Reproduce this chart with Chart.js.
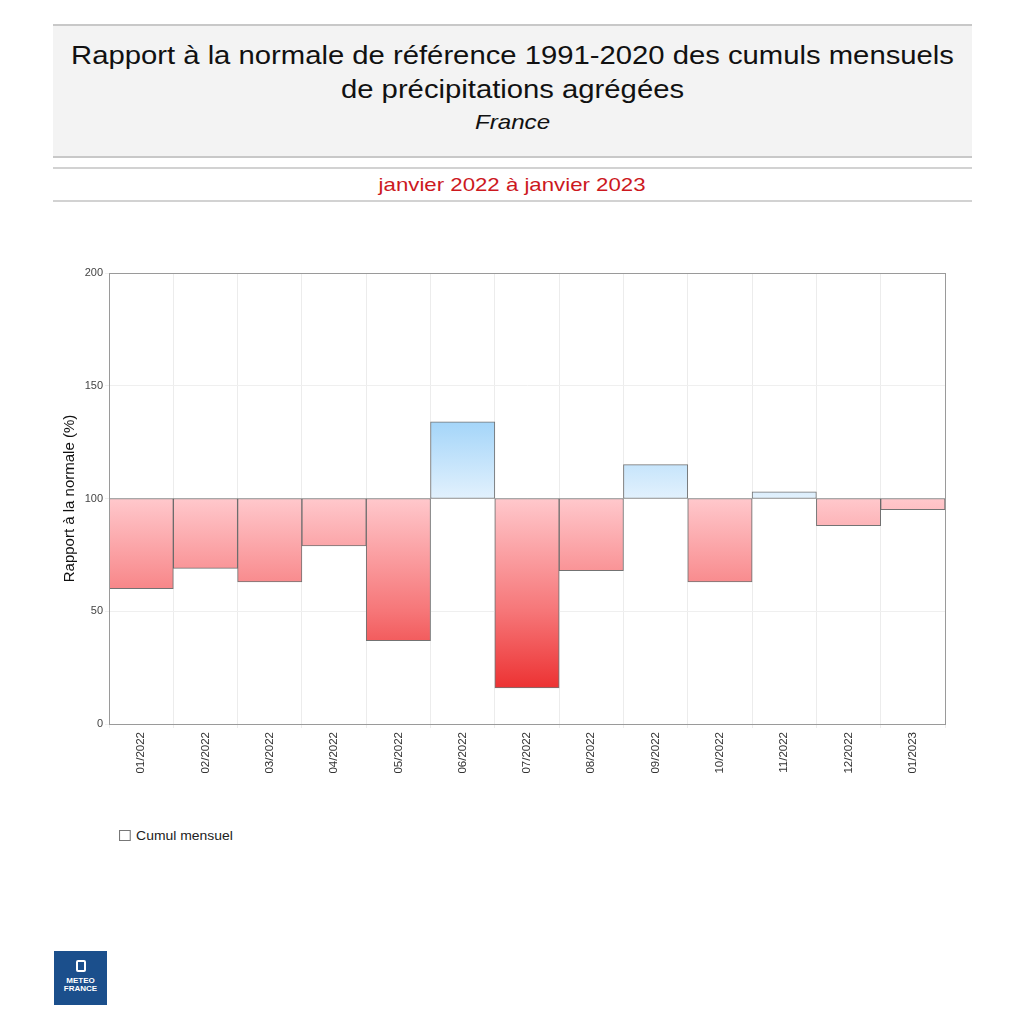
<!DOCTYPE html>
<html>
<head>
<meta charset="utf-8">
<script src="https://cdn.jsdelivr.net/npm/chart.js@4.4.0/dist/chart.umd.min.js"></script>
<style>
  html, body { margin: 0; padding: 0; background: #ffffff; }
  body { width: 1017px; height: 1024px; position: relative; overflow: hidden; font-family: "Liberation Sans", Arial, sans-serif; }
  #head { position: absolute; left: 53px; top: 24px; width: 919px; height: 130px; background: #f3f3f3; border-top: 2px solid #c8c8c8; border-bottom: 2px solid #c8c8c8; text-align: center; color: #111; }
  #head .t { font-size: 25px; line-height: 34px; transform: scaleX(1.17); transform-origin: 50% 50%; }
  #head .t1 { position: absolute; left: 0; right: 0; top: 12px; }
  #head .t2 { position: absolute; left: 0; right: 0; top: 46px; }
  #head .f { position: absolute; left: 0; right: 0; top: 84px; font-size: 21px; font-style: italic; transform: scaleX(1.15); transform-origin: 50% 50%; }
  #sub { position: absolute; left: 53px; top: 167px; width: 919px; height: 31px; border-top: 2px solid #d2d2d2; border-bottom: 2px solid #d2d2d2; text-align: center; color: #cc181e; font-size: 19px; line-height: 31px; }
  #sub span { display: inline-block; transform: scaleX(1.17); }
  #wrap { position: absolute; left: 0; top: 250px; width: 1017px; height: 560px; }
  #legend { position: absolute; left: 119px; top: 828px; font-size: 13px; color: #222; transform: scaleX(1.07); transform-origin: 0 50%; }
  #legend span.box { display: inline-block; width: 9px; height: 9px; border: 1px solid #777; margin-right: 5px; vertical-align: -1px; background: #fff; }
  #logo { position: absolute; left: 54px; top: 951px; width: 53px; height: 54px; background: #1b4f8c; color: #fff; text-align: center; font-weight: bold; font-size: 8px; line-height: 8px; }
  #logo .ic { width: 10px; height: 12px; border: 2px solid #fff; border-radius: 2px; margin: 9px auto 5px auto; box-sizing: border-box; }
</style>
</head>
<body>
<div id="head">
  <div class="t t1">Rapport à la normale de référence 1991-2020 des cumuls mensuels</div>
  <div class="t t2">de précipitations agrégées</div>
  <div class="f">France</div>
</div>
<div id="sub"><span>janvier 2022 à janvier 2023</span></div>
<div id="wrap"><canvas id="c"></canvas></div>
<div id="legend"><span class="box"></span>Cumul mensuel</div>
<div id="logo"><div class="ic"></div>METEO<br>FRANCE</div>
<script>
const months = ["01/2022","02/2022","03/2022","04/2022","05/2022","06/2022","07/2022","08/2022","09/2022","10/2022","11/2022","12/2022","01/2023"];
const ratios = [60, 69, 63, 79, 37, 134, 16, 68, 115, 63, 103, 88, 95];
const normal = 100;
const yTicks = [0, 50, 100, 150, 200];
const yTitle = "Rapport à la normale (%)";
const seriesName = "Cumul mensuel";

const floating = ratios.map(v => [normal, v]);

function fillFor(ctx) {
  const chart = ctx.chart;
  const area = chart.chartArea;
  if (!area) return 'rgba(0,0,0,0)';
  const y = chart.scales.y;
  const v = ratios[ctx.dataIndex];
  const p100 = y.getPixelForValue(normal);
  if (v < normal) {
    const g = chart.ctx.createLinearGradient(0, p100, 0, y.getPixelForValue(0));
    g.addColorStop(0, 'rgb(255,200,204)');
    g.addColorStop(0.5, 'rgb(246,118,120)');
    g.addColorStop(1, 'rgb(232,18,18)');
    return g;
  } else {
    const g = chart.ctx.createLinearGradient(0, p100, 0, y.getPixelForValue(150));
    g.addColorStop(0, 'rgb(226,241,253)');
    g.addColorStop(1, 'rgb(135,200,247)');
    return g;
  }
}

const frame = {
  id: 'frame',
  afterDatasetsDraw(chart) {
    const a = chart.chartArea, c = chart.ctx;
    c.save();
    c.strokeStyle = '#9a9a9a';
    c.lineWidth = 1;
    c.strokeRect(Math.round(a.left) + 0.5, Math.round(a.top) + 0.5, Math.round(a.right - a.left), Math.round(a.bottom - a.top));
    c.restore();
  }
};

new Chart(document.getElementById('c'), {
  type: 'bar',
  data: {
    labels: months,
    datasets: [{
      label: seriesName,
      data: floating,
      backgroundColor: fillFor,
      borderColor: 'rgba(90,90,90,0.85)',
      borderWidth: 1,
      borderSkipped: false,
      categoryPercentage: 1.0,
      barPercentage: 1.0
    }]
  },
  options: {
    responsive: true,
    maintainAspectRatio: false,
    animation: false,
    devicePixelRatio: 1,
    layout: { padding: { left: 50, right: 72, top: 23, bottom: 0 } },
    plugins: { legend: { display: false }, tooltip: { enabled: false }, title: { display: false } },
    scales: {
      x: {
        grid: { offset: true, color: '#ececec', drawTicks: true, tickLength: 4 },
        border: { color: '#9a9a9a' },
        ticks: { color: '#333', font: { family: 'Liberation Sans', size: 11.5 }, minRotation: 90, maxRotation: 90, autoSkip: false, padding: 4 },
        afterFit(s) { s.height = 86; }
      },
      y: {
        min: 0, max: 200,
        afterBuildTicks(s) { s.ticks = yTicks.map(v => ({ value: v })); },
        grid: { color: '#efefef', tickLength: 4 },
        border: { color: '#9a9a9a' },
        ticks: { color: '#444', font: { family: 'Liberation Sans', size: 11 }, padding: 2 },
        title: { display: true, text: yTitle, color: '#111', font: { family: 'Liberation Sans', size: 15 }, padding: { top: 11, bottom: 0 } },
        afterFit(s) { s.width = 59; }
      }
    }
  },
  plugins: [frame]
});
</script>
</body>
</html>
